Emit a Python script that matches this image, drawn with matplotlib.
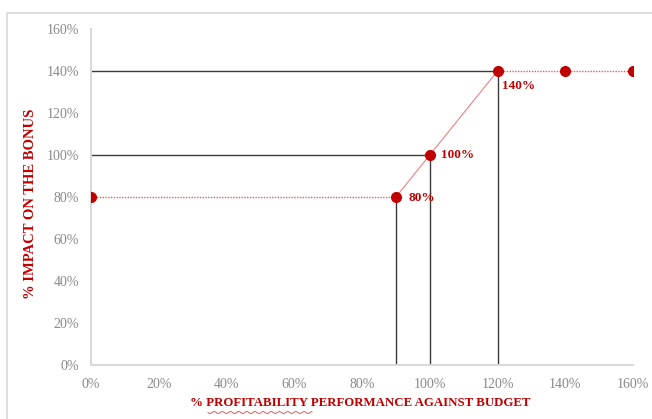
import numpy as np
import matplotlib
matplotlib.use("Agg")
import matplotlib.pyplot as plt
from matplotlib.patches import Rectangle
from matplotlib.lines import Line2D

# Data
perf = [0, 90, 100, 120, 140, 160]          # % profitability performance
impact = [80, 80, 100, 140, 140, 140]       # % impact on bonus
x_ticks = [0, 20, 40, 60, 80, 100, 120, 140, 160]
y_ticks = [0, 20, 40, 60, 80, 100, 120, 140, 160]
labeled_points = [(90, 80, "80%"), (100, 100, "100%"), (120, 140, "140%")]
ref_h = [(120, 140), (100, 100)]  # horizontal reference lines (x_end, y)
ref_v = [(90, 80), (100, 100), (120, 140)]  # vertical reference lines (x, y_end)

red = "#C00000"
serif = ["Liberation Serif", "DejaVu Serif"]

fig = plt.figure(figsize=(6.52, 4.19), dpi=100)
ax = fig.add_axes([91/652, 1-365/419, (633-91)/652, (365-29)/419])

# outer chart border
fig.patches.append(Rectangle((7/652, -0.05), 1.0, 1-13/419+0.05, transform=fig.transFigure,
                             fill=False, edgecolor="#d9d9d9", linewidth=1.2))

# reference lines
for xe, y in ref_h:
    ax.plot([0, xe], [y, y], color="#3a3a3a", lw=1.0, zorder=2)
for x, ye in ref_v:
    ax.plot([x, x], [0, ye], color="#3a3a3a", lw=1.0, zorder=2)

# series segments
for i in range(len(perf)-1):
    x0, x1 = perf[i], perf[i+1]
    y0, y1 = impact[i], impact[i+1]
    if y0 == y1:
        ax.plot([x0, x1], [y0, y1], color="#e06060", lw=1.0, ls=(0, (1, 1)), zorder=3)
    else:
        ax.plot([x0, x1], [y0, y1], color="#f08080", lw=0.8, zorder=3)
ax.plot(perf, impact, ls="none", marker="o", ms=7, color=red, zorder=4)

# data labels
offsets = {"80%": (9, -1), "100%": (8, 0), "140%": (3, -11)}
for x, y, t in labeled_points:
    dx, dy = offsets[t]
    ax.annotate(t, (x, y), xytext=(dx, dy), textcoords="offset points",
                color=red, fontweight="bold", fontsize=9.5, family=serif,
                ha="left", va="center")

ax.set_xlim(0, 160)
ax.set_ylim(0, 160)
ax.set_xticks(x_ticks)
ax.set_yticks(y_ticks)
ax.set_xticklabels([f"{v}%" for v in x_ticks])
ax.set_yticklabels([f"{v}%" for v in y_ticks])
ax.tick_params(length=0, labelsize=10, labelcolor="#8a8a8a")
ax.tick_params(axis="x", pad=9)
ax.tick_params(axis="y", pad=8.5)
for lab in ax.get_xticklabels() + ax.get_yticklabels():
    lab.set_family(serif)
for s in ["top", "right"]:
    ax.spines[s].set_visible(False)
ax.spines["left"].set_color("#d9d9d9")
ax.spines["bottom"].set_color("#d9d9d9")
ax.spines["left"].set_linewidth(1.5)
ax.spines["bottom"].set_linewidth(1.5)

fig.text(31/652, 1-204/419, "% IMPACT ON THE BONUS", rotation=90, color=red,
         fontweight="bold", fontsize=10.5, family=serif, ha="center", va="center")
fig.text(360/652, 1-403/419, "% PROFITABILITY PERFORMANCE AGAINST BUDGET", color=red,
         fontweight="bold", fontsize=9.3, family=serif, ha="center", va="center")

# spell-check wavy underline under "PROFITABILITY"
xs = np.linspace(208, 312, 80)
ys = 412.5 + 1.0*np.sin((xs-208)/1.3)
fig.add_artist(Line2D(xs/652, 1-ys/419, transform=fig.transFigure, color="#e04040", lw=0.6))

fig.savefig("out.png", dpi=100)
